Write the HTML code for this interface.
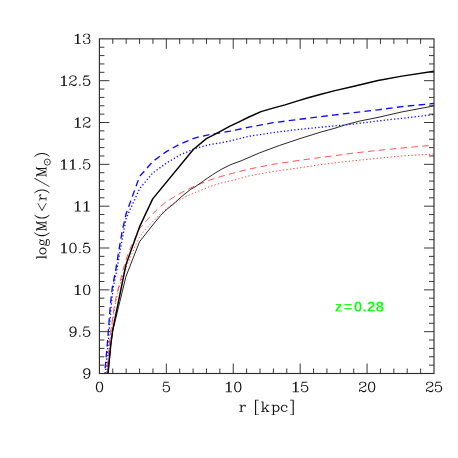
<!DOCTYPE html>
<html><head><meta charset="utf-8"><title>plot</title>
<style>
html,body{margin:0;padding:0;background:#fff;}
body{width:458px;height:458px;overflow:hidden;font-family:"Liberation Serif",serif;}
svg{display:block;}
</style></head><body>
<svg width="458" height="458" viewBox="0 0 458 458">
<rect width="458" height="458" fill="#fff"/>
<defs><path id="g48" d="M8.75 -21.75L5.94 -20.81L5.38 -20.44L3.44 -17.56L3.19 -16.94L2.25 -12.25L2.25 -8.75L3.25 -3.81L5.31 -0.62L5.94 -0.19L8.75 0.75L11.25 0.75L14.06 -0.19L14.62 -0.56L16.56 -3.44L16.81 -4.06L17.75 -8.75L17.75 -12.25L16.75 -17.19L14.69 -20.38L14.06 -20.81L11.25 -21.75ZM9.19 -20.25L10.81 -20.25L12.56 -19.38L13.38 -18.56L14.31 -16.69L15.25 -12.00L15.25 -9.00L14.25 -4.19L13.38 -2.44L12.56 -1.62L10.81 -0.75L9.19 -0.75L7.44 -1.62L6.62 -2.44L5.69 -4.31L4.75 -9.06L4.75 -11.94L5.75 -16.81L6.62 -18.56L7.44 -19.38Z"/><path id="g49" d="M11.06 -21.75L10.50 -21.56L7.56 -18.62L5.75 -17.75L5.25 -17.06L5.62 -16.38L6.38 -16.31L8.25 -17.25L9.25 -18.06L9.25 -0.81L5.75 -0.69L5.38 -0.38L5.25 0.06L5.38 0.38L5.94 0.75L15.06 0.75L15.38 0.62L15.75 0.06L15.62 -0.38L15.06 -0.75L11.75 -0.81L11.75 -21.06L11.62 -21.38Z"/><path id="g50" d="M4.94 -20.81L3.44 -19.56L2.31 -17.38L2.25 -15.94L2.44 -15.44L3.50 -14.44L3.94 -14.25L4.50 -14.44L5.56 -15.44L5.75 -15.94L5.56 -16.56L4.25 -17.69L4.62 -18.56L5.50 -19.38L8.12 -20.25L11.81 -20.25L13.56 -19.38L14.38 -18.56L15.25 -16.81L15.25 -15.19L14.31 -13.44L11.69 -11.69L5.75 -8.75L3.44 -6.56L2.25 -3.25L2.31 0.25L2.75 0.69L3.38 0.62L3.75 0.06L3.75 -1.69L4.31 -2.25L5.75 -2.25L10.94 0.75L15.25 0.69L16.56 -0.44L17.69 -2.62L17.75 -5.06L17.25 -5.69L16.75 -5.69L16.31 -5.25L16.25 -3.31L15.56 -2.62L13.81 -1.75L11.12 -1.75L6.38 -3.69L4.06 -3.81L4.69 -5.62L6.44 -7.38L8.44 -8.38L12.94 -10.12L16.38 -12.31L16.75 -12.75L17.69 -14.62L17.69 -17.38L16.56 -19.56L15.50 -20.56L12.25 -21.75L7.75 -21.75Z"/><path id="g51" d="M7.75 -21.75L4.81 -20.75L3.44 -19.56L2.31 -17.38L2.25 -15.94L2.44 -15.44L3.50 -14.44L3.94 -14.25L4.50 -14.44L5.56 -15.44L5.75 -15.94L5.56 -16.56L4.25 -17.69L4.62 -18.56L5.50 -19.38L8.12 -20.25L11.81 -20.25L13.31 -19.50L14.25 -17.81L14.25 -15.19L13.50 -13.69L11.81 -12.75L8.94 -12.75L8.38 -12.38L8.25 -11.94L8.38 -11.62L8.94 -11.25L11.81 -11.25L13.56 -10.38L14.31 -9.62L15.25 -6.88L15.25 -4.19L14.38 -2.44L13.56 -1.62L11.81 -0.75L8.12 -0.75L5.38 -1.69L4.62 -2.44L4.25 -3.31L5.56 -4.44L5.75 -5.06L5.56 -5.56L4.25 -6.69L3.94 -6.75L3.50 -6.56L2.44 -5.56L2.25 -5.06L2.25 -3.94L3.44 -1.44L4.94 -0.19L7.75 0.75L12.25 0.75L15.50 -0.44L16.56 -1.44L17.69 -3.62L17.69 -7.38L16.56 -9.56L14.12 -11.81L15.19 -12.25L15.75 -12.75L16.69 -14.62L16.75 -18.06L15.75 -20.25L15.06 -20.81L12.25 -21.75Z"/><path id="g52" d="M13.12 -21.75L12.69 -21.69L12.31 -21.38L1.44 -6.56L1.25 -6.06L1.38 -5.62L1.94 -5.25L11.19 -5.25L11.25 -0.81L8.94 -0.75L8.62 -0.62L8.25 0.06L8.38 0.38L8.94 0.75L16.06 0.75L16.38 0.62L16.75 0.06L16.38 -0.62L16.06 -0.75L13.75 -0.81L13.75 -5.19L18.06 -5.25L18.38 -5.38L18.75 -5.94L18.62 -6.38L18.06 -6.75L13.75 -6.81L13.75 -21.12L13.62 -21.44ZM11.19 -17.19L11.25 -6.81L3.62 -6.75L3.56 -6.88Z"/><path id="g53" d="M4.69 -21.69L4.38 -21.44L4.19 -20.94L2.25 -11.25L2.38 -10.56L2.88 -10.25L3.31 -10.31L5.38 -12.31L8.12 -13.25L10.81 -13.25L12.56 -12.38L14.31 -10.62L15.25 -7.88L15.25 -6.12L14.31 -3.38L12.56 -1.62L10.81 -0.75L8.12 -0.75L5.38 -1.69L4.62 -2.44L4.25 -3.31L5.56 -4.44L5.75 -5.06L5.56 -5.56L4.25 -6.69L3.94 -6.75L3.50 -6.56L2.44 -5.56L2.25 -5.06L2.31 -3.62L3.44 -1.44L4.50 -0.44L7.75 0.75L11.25 0.75L14.06 -0.19L14.50 -0.44L16.56 -2.44L17.75 -5.75L17.75 -8.25L16.56 -11.56L14.50 -13.56L11.25 -14.75L7.75 -14.75L4.94 -13.81L4.31 -13.38L4.25 -13.50L5.50 -19.25L10.25 -19.25L15.00 -20.19L15.62 -20.56L15.69 -21.31L15.12 -21.75Z"/><path id="g54" d="M13.06 -21.75L9.75 -21.75L6.50 -20.56L4.25 -18.25L3.31 -16.38L2.25 -12.25L2.25 -5.75L3.44 -2.44L5.50 -0.44L8.75 0.75L11.25 0.75L14.50 -0.44L16.56 -2.44L17.75 -5.75L17.75 -7.25L16.56 -10.56L14.50 -12.56L14.06 -12.81L11.25 -13.75L9.75 -13.75L6.81 -12.75L4.75 -10.94L4.75 -11.94L5.69 -15.69L6.62 -17.56L8.44 -19.38L10.19 -20.25L12.81 -20.25L14.50 -19.31L14.75 -18.69L13.44 -17.56L13.25 -17.06L13.44 -16.44L14.50 -15.44L14.94 -15.25L15.25 -15.31L16.56 -16.44L16.75 -16.94L16.69 -18.38L15.75 -20.25L15.25 -20.75ZM10.81 -12.25L12.56 -11.38L14.31 -9.62L15.25 -6.88L15.25 -6.12L14.31 -3.38L12.56 -1.62L10.81 -0.75L9.19 -0.75L7.44 -1.62L5.69 -3.38L4.75 -6.12L4.75 -6.88L5.69 -9.62L7.38 -11.31L10.12 -12.25Z"/><path id="g55" d="M2.94 -21.75L2.62 -21.62L2.25 -21.06L2.25 -14.94L2.38 -14.62L2.94 -14.25L3.38 -14.38L3.69 -14.75L3.75 -16.81L4.50 -18.31L6.19 -19.25L7.88 -19.25L12.88 -17.25L15.06 -17.25L16.19 -18.00L15.31 -15.38L10.44 -10.56L9.31 -8.38L8.25 -5.25L8.25 0.06L8.75 0.69L9.06 0.75L9.50 0.50L10.06 0.75L10.38 0.62L10.75 0.06L10.75 -4.88L11.69 -7.69L12.75 -9.75L16.75 -14.75L17.75 -17.75L17.75 -21.12L17.31 -21.69L16.69 -21.69L16.31 -21.38L15.38 -19.44L14.69 -18.75L13.25 -18.75L8.06 -21.75L5.75 -21.69L3.81 -19.88L3.69 -21.25L3.38 -21.62Z"/><path id="g56" d="M7.75 -21.75L4.62 -20.62L4.25 -20.25L3.31 -18.38L3.31 -14.62L4.25 -12.75L4.81 -12.25L5.50 -12.00L4.50 -11.56L3.44 -10.56L2.31 -8.38L2.25 -3.94L3.44 -1.44L4.94 -0.19L7.75 0.75L12.25 0.75L15.50 -0.44L16.56 -1.44L17.69 -3.62L17.69 -8.38L16.56 -10.56L15.50 -11.56L14.50 -12.00L15.19 -12.25L15.75 -12.75L16.69 -14.62L16.75 -18.06L15.75 -20.25L15.06 -20.81L12.25 -21.75ZM8.19 -11.25L11.81 -11.25L13.56 -10.38L14.38 -9.56L15.25 -7.81L15.25 -4.19L14.38 -2.44L13.56 -1.62L11.81 -0.75L8.19 -0.75L6.44 -1.62L5.62 -2.44L4.75 -4.19L4.75 -7.81L5.62 -9.56L6.44 -10.38ZM6.50 -19.31L8.19 -20.25L11.81 -20.25L13.31 -19.50L14.25 -17.81L14.25 -15.19L13.50 -13.69L11.81 -12.75L8.19 -12.75L6.69 -13.50L5.75 -15.19L5.75 -17.81Z"/><path id="g57" d="M11.25 -21.75L8.75 -21.75L5.50 -20.56L3.44 -18.56L2.25 -15.25L2.25 -13.75L3.44 -10.44L5.50 -8.44L5.94 -8.19L8.75 -7.25L10.25 -7.25L13.19 -8.25L15.25 -10.06L15.25 -9.06L14.31 -5.31L13.38 -3.44L11.56 -1.62L9.81 -0.75L7.19 -0.75L5.50 -1.69L5.25 -2.31L6.56 -3.44L6.75 -3.94L6.56 -4.56L5.50 -5.56L5.06 -5.75L4.75 -5.69L3.44 -4.56L3.25 -4.06L3.31 -2.62L4.25 -0.75L4.75 -0.25L6.94 0.75L10.25 0.75L13.50 -0.44L15.75 -2.75L16.69 -4.62L17.75 -8.75L17.75 -15.25L16.56 -18.56L14.50 -20.56ZM10.81 -20.25L12.56 -19.38L14.31 -17.62L15.25 -14.88L15.25 -14.12L14.31 -11.38L12.62 -9.69L9.88 -8.75L9.19 -8.75L7.44 -9.62L5.69 -11.38L4.75 -14.12L4.75 -14.88L5.69 -17.62L7.44 -19.38L9.19 -20.25Z"/><path id="g46" d="M4.88 -2.75L3.44 -1.56L3.25 -0.94L3.44 -0.44L4.50 0.56L5.06 0.75L5.50 0.56L6.56 -0.44L6.75 -1.06L6.56 -1.56L5.50 -2.56Z"/><path id="g108" d="M1.94 -21.75L1.62 -21.62L1.25 -21.06L1.62 -20.38L1.94 -20.25L4.25 -20.19L4.25 -0.81L1.94 -0.75L1.38 -0.38L1.25 0.06L1.38 0.38L1.94 0.75L9.06 0.75L9.38 0.62L9.75 0.06L9.38 -0.62L9.06 -0.75L6.75 -0.81L6.75 -21.12L6.62 -21.44L6.12 -21.75Z"/><path id="g111" d="M8.75 -14.75L5.81 -13.75L3.44 -11.56L2.25 -8.25L2.25 -5.75L3.44 -2.44L5.50 -0.44L8.75 0.75L11.25 0.75L14.19 -0.25L16.56 -2.44L17.75 -5.75L17.75 -8.25L16.56 -11.56L14.50 -13.56L11.25 -14.75ZM9.19 -13.25L10.81 -13.25L12.56 -12.38L14.31 -10.62L15.25 -7.88L15.25 -6.12L14.31 -3.38L12.56 -1.62L10.81 -0.75L9.19 -0.75L7.44 -1.62L5.69 -3.38L4.75 -6.12L4.75 -7.88L5.69 -10.62L7.44 -12.38Z"/><path id="g103" d="M7.88 -14.75L5.75 -13.75L4.44 -12.56L3.31 -10.38L3.25 -7.94L4.06 -6.12L3.25 -5.25L2.25 -3.06L2.31 -1.62L3.19 0.06L2.25 0.75L1.31 2.62L1.25 4.06L2.25 6.25L2.94 6.81L5.75 7.75L12.25 7.75L15.06 6.81L15.75 6.25L16.75 4.06L16.69 2.62L15.75 0.75L15.06 0.19L12.25 -0.75L7.12 -0.75L4.38 -1.69L3.75 -2.31L3.75 -2.81L4.62 -4.56L5.00 -4.94L5.75 -4.25L7.94 -3.25L10.38 -3.31L12.50 -4.44L13.56 -5.44L14.75 -7.94L14.69 -10.38L13.94 -11.88L14.31 -12.25L16.06 -12.25L16.38 -12.38L16.75 -12.94L16.75 -14.06L16.38 -14.62L15.62 -14.69L13.75 -13.75L13.00 -13.06L12.25 -13.75L10.38 -14.69ZM2.75 3.19L3.56 1.62L5.00 1.12L6.75 1.75L11.88 1.75L14.62 2.69L15.25 3.31L15.25 3.81L14.44 5.38L11.88 6.25L6.12 6.25L3.56 5.38L2.75 3.81ZM8.19 -13.25L9.81 -13.25L11.31 -12.50L12.25 -10.81L12.25 -7.19L11.50 -5.69L9.81 -4.75L8.19 -4.75L6.69 -5.50L5.75 -7.19L5.75 -10.81L6.50 -12.31Z"/><path id="g40" d="M10.94 -25.75L10.50 -25.56L8.44 -23.56L6.31 -20.38L4.31 -16.38L3.25 -11.25L3.25 -6.75L4.31 -1.62L6.31 2.38L8.44 5.56L10.50 7.56L11.06 7.75L11.62 7.38L11.69 6.75L11.56 6.44L9.62 4.56L7.69 0.69L6.69 -2.31L5.75 -7.06L5.75 -10.94L6.69 -15.69L7.69 -18.69L9.62 -22.56L11.56 -24.44L11.75 -24.94L11.69 -25.25L11.38 -25.62Z"/><path id="g77" d="M1.62 -21.62L1.25 -21.06L1.62 -20.38L1.94 -20.25L4.25 -20.19L4.25 -0.81L1.75 -0.69L1.31 -0.25L1.38 0.38L1.94 0.75L8.06 0.75L8.38 0.62L8.75 0.06L8.62 -0.38L8.06 -0.75L5.75 -0.81L5.81 -16.06L11.25 0.25L11.88 0.75L12.31 0.69L12.75 0.25L18.19 -16.06L18.25 -0.81L15.94 -0.75L15.38 -0.38L15.25 0.06L15.38 0.38L15.94 0.75L23.06 0.75L23.38 0.62L23.75 0.06L23.38 -0.62L23.06 -0.75L20.75 -0.81L20.75 -20.19L23.25 -20.31L23.69 -20.75L23.62 -21.38L23.06 -21.75L18.81 -21.75L18.25 -21.25L12.50 -4.00L6.75 -21.25L6.12 -21.75L1.94 -21.75Z"/><path id="g60" d="M3.25 -9.06L3.38 -8.62L3.62 -8.31L19.50 0.62L20.06 0.75L20.62 0.38L20.75 -0.06L20.38 -0.69L5.62 -9.00L20.38 -17.31L20.75 -17.94L20.38 -18.62L20.06 -18.75L19.50 -18.62L3.62 -9.69Z"/><path id="g114" d="M1.75 -14.69L1.25 -14.06L1.62 -13.38L1.94 -13.25L4.25 -13.19L4.25 -0.81L1.75 -0.69L1.31 -0.25L1.31 0.25L1.94 0.75L9.25 0.69L9.75 0.06L9.38 -0.62L9.06 -0.75L6.75 -0.81L6.75 -7.88L7.62 -10.50L9.44 -12.38L11.19 -13.25L13.06 -13.25L12.31 -12.25L12.25 -11.94L12.44 -11.44L13.50 -10.44L13.94 -10.25L14.25 -10.31L15.56 -11.44L15.75 -11.94L15.75 -13.06L15.56 -13.56L14.50 -14.56L14.06 -14.75L10.94 -14.75L8.75 -13.75L6.81 -11.88L6.75 -14.12L6.31 -14.69Z"/><path id="g41" d="M2.94 -25.75L2.38 -25.38L2.31 -24.75L2.44 -24.44L4.38 -22.56L6.31 -18.69L7.31 -15.69L8.25 -11.00L8.25 -7.00L7.31 -2.31L6.31 0.69L4.38 4.56L2.44 6.44L2.25 6.94L2.31 7.25L2.62 7.62L3.06 7.75L3.50 7.56L5.56 5.56L7.69 2.38L9.69 -1.62L10.75 -6.75L10.75 -11.25L9.69 -16.38L7.69 -20.38L5.56 -23.56L3.50 -25.56Z"/><path id="g47" d="M20.38 -25.62L20.06 -25.75L19.62 -25.62L19.31 -25.38L1.38 6.50L1.25 7.06L1.62 7.62L1.94 7.75L2.38 7.62L2.69 7.38L20.62 -24.50L20.75 -25.06Z"/><path id="g91" d="M3.88 -25.75L3.44 -25.50L3.25 -25.12L3.25 7.12L3.38 7.44L3.88 7.75L11.06 7.75L11.38 7.62L11.75 7.06L11.62 6.62L11.06 6.25L5.75 6.19L5.75 -24.19L11.06 -24.25L11.62 -24.62L11.75 -25.06L11.62 -25.38L11.06 -25.75Z"/><path id="g107" d="M1.62 -21.62L1.25 -21.06L1.62 -20.38L1.94 -20.25L4.25 -20.19L4.25 -0.81L1.75 -0.69L1.31 -0.25L1.38 0.38L1.94 0.75L9.06 0.75L9.38 0.62L9.75 0.06L9.38 -0.62L9.06 -0.75L6.75 -0.81L6.75 -3.69L9.94 -6.81L14.44 -0.81L12.62 -0.62L12.25 -0.06L12.62 0.62L12.94 0.75L19.06 0.75L19.38 0.62L19.75 0.06L19.62 -0.38L19.06 -0.75L17.44 -0.75L11.62 -8.56L16.31 -13.25L19.25 -13.31L19.69 -13.75L19.62 -14.38L19.06 -14.75L12.94 -14.75L12.62 -14.62L12.25 -14.06L12.62 -13.38L14.12 -13.19L6.81 -5.88L6.75 -21.12L6.62 -21.44L6.12 -21.75L1.94 -21.75Z"/><path id="g112" d="M1.94 -14.75L1.62 -14.62L1.25 -14.06L1.62 -13.38L1.94 -13.25L4.25 -13.19L4.25 6.19L1.94 6.25L1.38 6.62L1.25 7.06L1.38 7.38L1.94 7.75L9.06 7.75L9.38 7.62L9.75 7.06L9.38 6.38L9.06 6.25L6.75 6.19L6.75 -1.06L7.75 -0.25L9.94 0.75L12.25 0.75L15.19 -0.25L17.56 -2.44L18.75 -5.75L18.75 -8.25L17.56 -11.56L15.50 -13.56L15.06 -13.81L12.25 -14.75L9.94 -14.75L7.75 -13.75L6.81 -12.88L6.75 -14.12L6.31 -14.69ZM10.19 -13.25L11.81 -13.25L13.56 -12.38L15.31 -10.62L16.25 -7.88L16.25 -6.12L15.31 -3.38L13.56 -1.62L11.81 -0.75L10.19 -0.75L8.44 -1.62L6.75 -3.31L6.75 -10.69L8.44 -12.38Z"/><path id="g99" d="M8.75 -14.75L5.81 -13.75L3.44 -11.56L2.25 -8.25L2.25 -5.75L3.44 -2.44L5.50 -0.44L8.75 0.75L11.25 0.75L14.50 -0.44L16.56 -2.44L16.75 -2.94L16.69 -3.25L16.25 -3.69L15.75 -3.69L13.62 -1.69L10.88 -0.75L9.19 -0.75L7.44 -1.62L5.69 -3.38L4.75 -6.12L4.75 -7.88L5.62 -10.50L7.44 -12.38L9.19 -13.25L11.81 -13.25L13.56 -12.38L14.44 -11.50L13.44 -10.56L13.25 -9.94L13.44 -9.44L14.50 -8.44L15.06 -8.25L15.50 -8.44L16.56 -9.44L16.75 -9.94L16.75 -11.06L16.56 -11.56L14.50 -13.56L12.38 -14.69Z"/><path id="g93" d="M2.94 -25.75L2.62 -25.62L2.25 -25.06L2.38 -24.62L2.94 -24.25L8.25 -24.19L8.25 6.19L2.94 6.25L2.38 6.62L2.25 7.06L2.38 7.38L2.94 7.75L10.12 7.75L10.56 7.50L10.75 7.12L10.75 -25.12L10.62 -25.44L10.12 -25.75Z"/><clipPath id="c"><rect x="99.4" y="38.85" width="334.6" height="334.65"/></clipPath></defs>
<g clip-path="url(#c)" fill="none" stroke-linejoin="round">
<path d="M106.9 373.5 L110.2 340.0 L111.6 328.6 L114.9 306.7 L117.0 296.8 L119.6 286.3 L122.9 275.0 L125.8 268.0 L129.0 260.6 L131.1 255.8 L133.3 251.0 L135.1 246.2 L137.3 241.4 L139.9 236.6 L142.2 233.4 L146.0 228.8 L151.0 223.4 L155.8 218.6 L160.6 213.6 L165.8 209.2 L168.7 206.9 L177.5 201.2 L186.2 196.4 L195.0 192.6 L203.7 189.1 L212.5 185.6 L221.2 182.9 L229.9 180.9 L235.0 179.9 L249.0 175.9 L273.0 171.5 L297.0 168.2 L321.0 164.6 L335.0 162.8 L354.0 160.7 L378.0 158.3 L402.0 155.9 L434.0 154.0" stroke="#ff2a2a" stroke-width="0.9" stroke-dasharray="1.3 2.2"/>
<path d="M106.6 373.5 L109.8 340.0 L111.1 328.6 L114.2 306.7 L116.2 296.8 L118.8 286.3 L121.8 275.0 L124.2 265.8 L127.7 254.5 L131.6 245.3 L140.0 228.2 L141.8 226.0 L148.8 218.1 L156.2 210.3 L164.5 203.1 L173.5 197.3 L182.7 192.0 L192.3 187.2 L202.0 183.1 L212.0 179.3 L222.5 176.0 L232.6 173.3 L249.0 169.1 L273.0 164.3 L297.0 160.7 L321.0 157.4 L335.0 155.6 L354.0 153.0 L378.0 150.4 L402.0 148.0 L434.0 145.1" stroke="#ff2a2a" stroke-width="0.8" stroke-dasharray="6.5 4.36" stroke-dashoffset="4.29"/>
<path d="M108.3 373.5 L110.9 345.0 L112.7 331.0 L126.0 276.3 L139.5 241.8 L144.8 235.0 L152.7 225.0 L160.6 215.5 L166.1 210.0 L173.1 204.3 L181.8 196.4 L190.6 189.4 L195.0 186.9 L203.7 180.8 L212.5 174.7 L221.2 169.4 L229.9 165.0 L235.0 163.0 L240.0 161.3 L259.7 152.8 L279.3 145.5 L300.0 138.6 L321.0 132.0 L335.0 128.2 L346.0 124.6 L360.0 121.0 L378.0 117.4 L402.0 111.9 L434.0 105.9" stroke="#111" stroke-width="0.9"/>
<path d="M105.4 373.5 L108.3 342.0 L111.2 305.5 L113.2 288.1 L116.9 269.6 L120.2 250.1 L124.0 230.0 L126.2 218.2 L139.6 188.7 L152.9 172.8 L166.3 163.2 L179.7 155.1 L193.1 149.4 L198.0 147.6 L210.0 144.6 L217.3 143.4 L230.0 141.0 L249.0 136.3 L273.0 132.6 L297.0 129.6 L321.0 127.2 L335.0 125.9 L354.0 124.0 L378.0 121.0 L402.0 118.3 L434.0 114.6" stroke="#0a0aff" stroke-width="1.3" stroke-dasharray="1.3 2.16"/>
<path d="M104.7 373.5 L107.5 342.0 L110.3 305.5 L112.2 288.1 L115.8 269.6 L118.9 250.1 L122.4 230.0 L126.2 213.5 L139.6 176.5 L152.9 161.4 L166.3 151.6 L179.7 144.1 L193.1 138.7 L198.0 137.2 L210.0 134.4 L217.3 133.3 L230.0 131.2 L249.0 127.2 L273.0 122.7 L297.0 119.6 L321.0 116.6 L335.0 114.9 L354.0 112.6 L378.0 109.8 L402.0 106.6 L434.0 103.5" stroke="#0a0aff" stroke-width="1.35" stroke-dasharray="6.6 4.3" stroke-dashoffset="5.65"/>
<path d="M107.8 373.5 L110.7 345.0 L112.7 330.0 L126.0 264.5 L139.5 226.9 L152.7 198.9 L193.3 149.5 L206.4 138.6 L219.0 132.2 L230.0 126.2 L237.0 122.8 L249.0 117.0 L261.0 111.6 L273.0 108.1 L285.0 104.9 L297.0 101.1 L309.0 97.5 L321.0 94.3 L335.0 90.6 L354.0 86.2 L378.0 80.5 L402.0 76.1 L434.0 71.3" stroke="#000" stroke-width="1.45"/>
</g>
<g fill="none" stroke="#2e2e2e">
<rect x="99.4" y="38.85" width="334.60" height="334.65" stroke-width="1.15"/>
<path d="M112.78 373.50 v-5 M112.78 38.85 v5 M126.17 373.50 v-5 M126.17 38.85 v5 M139.55 373.50 v-5 M139.55 38.85 v5 M152.94 373.50 v-5 M152.94 38.85 v5 M166.32 373.50 v-10 M166.32 38.85 v10 M179.70 373.50 v-5 M179.70 38.85 v5 M193.09 373.50 v-5 M193.09 38.85 v5 M206.47 373.50 v-5 M206.47 38.85 v5 M219.86 373.50 v-5 M219.86 38.85 v5 M233.24 373.50 v-10 M233.24 38.85 v10 M246.62 373.50 v-5 M246.62 38.85 v5 M260.01 373.50 v-5 M260.01 38.85 v5 M273.39 373.50 v-5 M273.39 38.85 v5 M286.78 373.50 v-5 M286.78 38.85 v5 M300.16 373.50 v-10 M300.16 38.85 v10 M313.54 373.50 v-5 M313.54 38.85 v5 M326.93 373.50 v-5 M326.93 38.85 v5 M340.31 373.50 v-5 M340.31 38.85 v5 M353.70 373.50 v-5 M353.70 38.85 v5 M367.08 373.50 v-10 M367.08 38.85 v10 M380.46 373.50 v-5 M380.46 38.85 v5 M393.85 373.50 v-5 M393.85 38.85 v5 M407.23 373.50 v-5 M407.23 38.85 v5 M420.62 373.50 v-5 M420.62 38.85 v5 M99.40 365.13 h5 M434.00 365.13 h-5 M99.40 356.77 h5 M434.00 356.77 h-5 M99.40 348.40 h5 M434.00 348.40 h-5 M99.40 340.03 h5 M434.00 340.03 h-5 M99.40 331.67 h10 M434.00 331.67 h-10 M99.40 323.30 h5 M434.00 323.30 h-5 M99.40 314.94 h5 M434.00 314.94 h-5 M99.40 306.57 h5 M434.00 306.57 h-5 M99.40 298.20 h5 M434.00 298.20 h-5 M99.40 289.84 h10 M434.00 289.84 h-10 M99.40 281.47 h5 M434.00 281.47 h-5 M99.40 273.11 h5 M434.00 273.11 h-5 M99.40 264.74 h5 M434.00 264.74 h-5 M99.40 256.37 h5 M434.00 256.37 h-5 M99.40 248.01 h10 M434.00 248.01 h-10 M99.40 239.64 h5 M434.00 239.64 h-5 M99.40 231.27 h5 M434.00 231.27 h-5 M99.40 222.91 h5 M434.00 222.91 h-5 M99.40 214.54 h5 M434.00 214.54 h-5 M99.40 206.18 h10 M434.00 206.18 h-10 M99.40 197.81 h5 M434.00 197.81 h-5 M99.40 189.44 h5 M434.00 189.44 h-5 M99.40 181.08 h5 M434.00 181.08 h-5 M99.40 172.71 h5 M434.00 172.71 h-5 M99.40 164.34 h10 M434.00 164.34 h-10 M99.40 155.98 h5 M434.00 155.98 h-5 M99.40 147.61 h5 M434.00 147.61 h-5 M99.40 139.24 h5 M434.00 139.24 h-5 M99.40 130.88 h5 M434.00 130.88 h-5 M99.40 122.51 h10 M434.00 122.51 h-10 M99.40 114.15 h5 M434.00 114.15 h-5 M99.40 105.78 h5 M434.00 105.78 h-5 M99.40 97.41 h5 M434.00 97.41 h-5 M99.40 89.05 h5 M434.00 89.05 h-5 M99.40 80.68 h10 M434.00 80.68 h-10 M99.40 72.32 h5 M434.00 72.32 h-5 M99.40 63.95 h5 M434.00 63.95 h-5 M99.40 55.58 h5 M434.00 55.58 h-5 M99.40 47.22 h5 M434.00 47.22 h-5" stroke-width="0.95"/>
</g>
<g fill="#111">
<use href="#g57" transform="translate(82.01 378.40) scale(0.4700 0.4650)"/>
<use href="#g57" transform="translate(68.24 336.57) scale(0.4700 0.4650)"/><use href="#g46" transform="translate(77.55 336.57) scale(0.4700 0.4650)"/><use href="#g53" transform="translate(82.01 336.57) scale(0.4700 0.4650)"/>
<use href="#g49" transform="translate(71.42 294.74) scale(0.6110 0.4650)"/><use href="#g48" transform="translate(82.01 294.74) scale(0.4700 0.4650)"/>
<use href="#g49" transform="translate(57.65 252.91) scale(0.6110 0.4650)"/><use href="#g48" transform="translate(68.24 252.91) scale(0.4700 0.4650)"/><use href="#g46" transform="translate(77.55 252.91) scale(0.4700 0.4650)"/><use href="#g53" transform="translate(82.01 252.91) scale(0.4700 0.4650)"/>
<use href="#g49" transform="translate(71.42 211.08) scale(0.6110 0.4650)"/><use href="#g49" transform="translate(80.30 211.08) scale(0.6110 0.4650)"/>
<use href="#g49" transform="translate(57.65 169.24) scale(0.6110 0.4650)"/><use href="#g49" transform="translate(66.53 169.24) scale(0.6110 0.4650)"/><use href="#g46" transform="translate(77.55 169.24) scale(0.4700 0.4650)"/><use href="#g53" transform="translate(82.01 169.24) scale(0.4700 0.4650)"/>
<use href="#g49" transform="translate(71.42 127.41) scale(0.6110 0.4650)"/><use href="#g50" transform="translate(82.01 127.41) scale(0.4700 0.4650)"/>
<use href="#g49" transform="translate(57.65 85.58) scale(0.6110 0.4650)"/><use href="#g50" transform="translate(68.24 85.58) scale(0.4700 0.4650)"/><use href="#g46" transform="translate(77.55 85.58) scale(0.4700 0.4650)"/><use href="#g53" transform="translate(82.01 85.58) scale(0.4700 0.4650)"/>
<use href="#g49" transform="translate(71.42 43.75) scale(0.6110 0.4650)"/><use href="#g51" transform="translate(82.01 43.75) scale(0.4700 0.4650)"/>
<use href="#g48" transform="translate(94.80 391.80) scale(0.4700 0.4650)"/>
<use href="#g53" transform="translate(161.72 391.80) scale(0.4700 0.4650)"/>
<use href="#g49" transform="translate(222.49 391.80) scale(0.6110 0.4650)"/><use href="#g48" transform="translate(233.08 391.80) scale(0.4700 0.4650)"/>
<use href="#g49" transform="translate(289.41 391.80) scale(0.6110 0.4650)"/><use href="#g53" transform="translate(300.00 391.80) scale(0.4700 0.4650)"/>
<use href="#g50" transform="translate(358.04 391.80) scale(0.4700 0.4650)"/><use href="#g48" transform="translate(366.92 391.80) scale(0.4700 0.4650)"/>
<use href="#g50" transform="translate(424.96 391.80) scale(0.4700 0.4650)"/><use href="#g53" transform="translate(433.84 391.80) scale(0.4700 0.4650)"/>
<use href="#g114" transform="translate(238.71 411.55) scale(0.4600 0.4570)"/><use href="#g91" transform="translate(253.49 411.55) scale(0.4600 0.4570)"/><use href="#g107" transform="translate(260.41 411.55) scale(0.4600 0.4570)"/><use href="#g112" transform="translate(270.91 411.55) scale(0.4600 0.4570)"/><use href="#g99" transform="translate(279.75 411.55) scale(0.4600 0.4570)"/><use href="#g93" transform="translate(288.85 411.55) scale(0.4600 0.4570)"/>
<g transform="rotate(-90)"><use href="#g108" transform="translate(-259.67 46.10) scale(0.4520 0.4570)"/><use href="#g111" transform="translate(-255.53 46.10) scale(0.4520 0.4570)"/><use href="#g103" transform="translate(-246.57 46.10) scale(0.4520 0.4570)"/><use href="#g40" transform="translate(-237.68 46.10) scale(0.4520 0.4570)"/><use href="#g77" transform="translate(-231.57 46.10) scale(0.4520 0.4570)"/><use href="#g40" transform="translate(-220.08 46.10) scale(0.4520 0.4570)"/><use href="#g60" transform="translate(-212.38 46.10) scale(0.4520 0.4570)"/><use href="#g114" transform="translate(-201.27 46.10) scale(0.4520 0.4570)"/><use href="#g41" transform="translate(-194.33 46.10) scale(0.4520 0.4570)"/><use href="#g47" transform="translate(-187.37 46.10) scale(0.4520 0.4570)"/><use href="#g77" transform="translate(-177.37 46.10) scale(0.4520 0.4570)"/><use href="#g41" transform="translate(-157.83 46.10) scale(0.4520 0.4570)"/></g>
<circle cx="47.3" cy="162.1" r="3.05" fill="none" stroke="#111" stroke-width="0.8"/><circle cx="47.3" cy="162.1" r="0.7"/>
</g>
<g fill="#00ff00" stroke="#fff" stroke-width="38"><path transform="translate(334.79 311.60) scale(0.00740 -0.00710)" d="M82 0V199L591 879H123V1082H901V881L395 205H950V0Z"/><path transform="translate(343.67 311.60) scale(0.00740 -0.00710)" d="M85 842V1065H1112V842ZM85 291V512H1112V291Z"/><path transform="translate(353.80 311.60) scale(0.00740 -0.00710)" d="M1055 705Q1055 348 932.5 164.0Q810 -20 565 -20Q81 -20 81 705Q81 958 134.0 1118.0Q187 1278 293.0 1354.0Q399 1430 573 1430Q823 1430 939.0 1249.0Q1055 1068 1055 705ZM773 705Q773 900 754.0 1008.0Q735 1116 693.0 1163.0Q651 1210 571 1210Q486 1210 442.5 1162.5Q399 1115 380.5 1007.5Q362 900 362 705Q362 512 381.5 403.5Q401 295 443.5 248.0Q486 201 567 201Q647 201 690.5 250.5Q734 300 753.5 409.0Q773 518 773 705Z"/><path transform="translate(362.57 311.60) scale(0.00740 -0.00710)" d="M139 0V305H428V0Z"/><path transform="translate(366.97 311.60) scale(0.00740 -0.00710)" d="M71 0V195Q126 316 227.5 431.0Q329 546 483 671Q631 791 690.5 869.0Q750 947 750 1022Q750 1206 565 1206Q475 1206 427.5 1157.5Q380 1109 366 1012L83 1028Q107 1224 229.5 1327.0Q352 1430 563 1430Q791 1430 913.0 1326.0Q1035 1222 1035 1034Q1035 935 996.0 855.0Q957 775 896.0 707.5Q835 640 760.5 581.0Q686 522 616.0 466.0Q546 410 488.5 353.0Q431 296 403 231H1057V0Z"/><path transform="translate(375.62 311.60) scale(0.00740 -0.00710)" d="M1076 397Q1076 199 945.0 89.5Q814 -20 571 -20Q330 -20 197.5 89.0Q65 198 65 395Q65 530 143.0 622.5Q221 715 352 737V741Q238 766 168.0 854.0Q98 942 98 1057Q98 1230 220.5 1330.0Q343 1430 567 1430Q796 1430 918.5 1332.5Q1041 1235 1041 1055Q1041 940 971.5 853.0Q902 766 785 743V739Q921 717 998.5 627.5Q1076 538 1076 397ZM752 1040Q752 1140 706.0 1186.5Q660 1233 567 1233Q385 1233 385 1040Q385 838 569 838Q661 838 706.5 885.0Q752 932 752 1040ZM785 420Q785 641 565 641Q463 641 408.5 583.0Q354 525 354 416Q354 292 408.0 235.0Q462 178 573 178Q682 178 733.5 235.0Q785 292 785 420Z"/></g>
</svg>
</body></html>
